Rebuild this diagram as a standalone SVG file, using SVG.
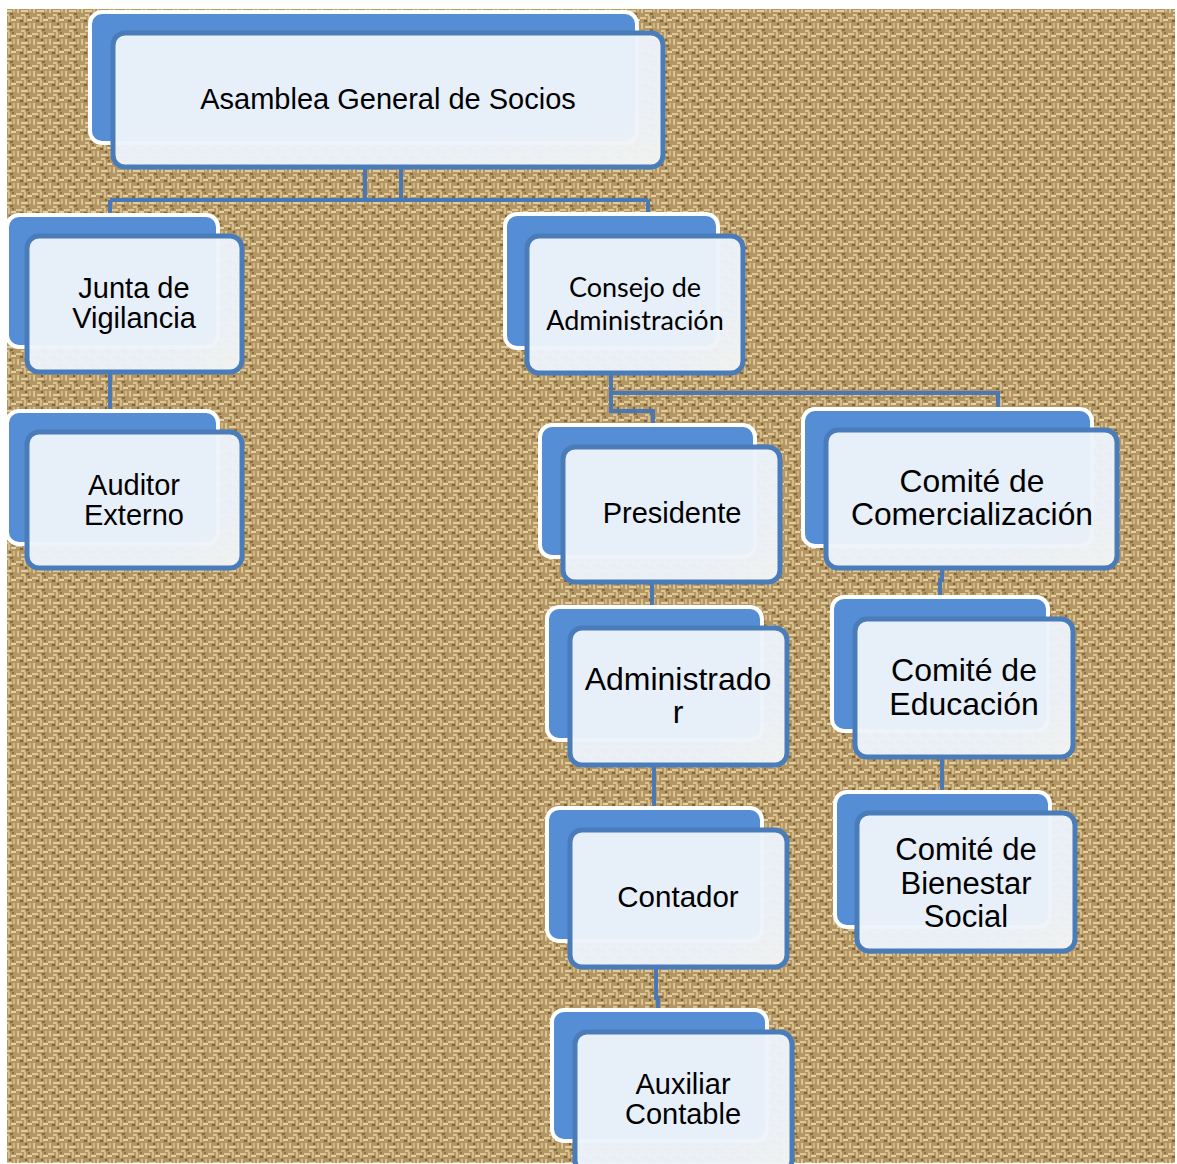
<svg xmlns="http://www.w3.org/2000/svg" width="1177" height="1164" viewBox="0 0 1177 1164">
<defs>
<pattern id="burlap" x="0" y="0" width="16" height="16" patternUnits="userSpaceOnUse">
<rect width="16" height="16" fill="#b39664"/>
<rect x="0" y="1" width="6" height="2" fill="#dcc795"/>
<rect x="8" y="0" width="2" height="6" fill="#d4bd8a"/>
<rect x="11" y="3" width="5" height="2" fill="#e3d2a6"/>
<rect x="1" y="7" width="2" height="6" fill="#d8c491"/>
<rect x="5" y="10" width="7" height="2" fill="#e0cc9c"/>
<rect x="13" y="7" width="2" height="5" fill="#cfb682"/>
<rect x="4" y="4" width="3" height="2" fill="#7f6338"/>
<rect x="10" y="13" width="3" height="2" fill="#86693c"/>
<rect x="12" y="0" width="2" height="2" fill="#8e7143"/>
<rect x="5" y="14" width="4" height="2" fill="#d9c694"/>
<rect x="9" y="7" width="2" height="2" fill="#7c6036"/>
</pattern>
<linearGradient id="frontFill" x1="0" y1="0" x2="1" y2="1">
<stop offset="0" stop-color="#edf3fb"/>
<stop offset="0.75" stop-color="#edf3fb"/>
<stop offset="1" stop-color="#f3f5f4"/>
</linearGradient>
</defs>
<style>
.back{fill:#558ed5;stroke:#ffffff;stroke-width:4}
.front{fill:url(#frontFill);fill-opacity:0.96;stroke:#4a7cba;stroke-width:5}
.conn{fill:none;stroke:#4a78b4;stroke-width:4}
.t{font-family:"Liberation Sans",Arial,sans-serif;fill:#000;text-anchor:middle}
.c{font-family:Lato,"Open Sans",sans-serif;fill:#000;text-anchor:middle}
</style>
<rect x="0" y="0" width="1177" height="1164" fill="#ffffff"/>
<rect x="7" y="9" width="1168" height="1154" fill="url(#burlap)"/>

<g id="connectors">
<path class="conn" d="M365 167 V200 M401 167 V200 M110 200 H648 M110 200 V216 M648 200 V215"/>
<path class="conn" d="M110 372 V412"/>
<path class="conn" d="M611 373 V411 H653 V426 M611 393 H998 V410"/>
<path class="conn" d="M652 582 V608"/>
<path class="conn" d="M654 765 V809"/>
<path class="conn" d="M656 967 V998 H658 V1011"/>
<path class="conn" d="M942 568 V580 H940 V598"/>
<path class="conn" d="M942 757 V793"/>
</g>

<g id="asamblea">
<rect class="back" x="90" y="12" width="547" height="131" rx="12"/>
<rect class="front" x="113" y="33" width="550" height="134" rx="12"/>
<text class="t" x="388" y="109" font-size="29">Asamblea General de Socios</text>
</g>

<g id="junta">
<rect class="back" x="7" y="215" width="211" height="132" rx="12"/>
<rect class="front" x="27" y="236" width="215" height="136" rx="12"/>
<text class="t" x="134" y="298" font-size="29">Junta de</text>
<text class="t" x="134" y="328" font-size="29">Vigilancia</text>
</g>

<g id="auditor">
<rect class="back" x="7" y="411" width="211" height="133" rx="12"/>
<rect class="front" x="27" y="432" width="215" height="136" rx="12"/>
<text class="t" x="134" y="495" font-size="29">Auditor</text>
<text class="t" x="134" y="525" font-size="29">Externo</text>
</g>

<g id="consejo">
<rect class="back" x="505" y="214" width="213" height="134" rx="12"/>
<rect class="front" x="527" y="236" width="216" height="137" rx="12"/>
<text class="c" x="635" y="297" font-size="27">Consejo de</text>
<text class="c" x="635" y="330" font-size="27">Administración</text>
</g>

<g id="presidente">
<rect class="back" x="540" y="425" width="215" height="132" rx="12"/>
<rect class="front" x="563" y="447" width="217" height="135" rx="12"/>
<text class="t" x="672" y="523" font-size="29">Presidente</text>
</g>

<g id="administrador">
<rect class="back" x="547" y="607" width="215" height="133" rx="12"/>
<rect class="front" x="570" y="628" width="217" height="137" rx="12"/>
<text class="t" x="678" y="690" font-size="32">Administrado</text>
<text class="t" x="678" y="723" font-size="32">r</text>
</g>

<g id="contador">
<rect class="back" x="547" y="808" width="215" height="133" rx="12"/>
<rect class="front" x="570" y="830" width="217" height="137" rx="12"/>
<text class="t" x="678" y="907" font-size="29.5">Contador</text>
</g>

<g id="auxiliar">
<rect class="back" x="552" y="1010" width="215" height="131" rx="12"/>
<rect class="front" x="575" y="1032" width="217" height="140" rx="12"/>
<text class="t" x="683" y="1094" font-size="29">Auxiliar</text>
<text class="t" x="683" y="1124" font-size="29">Contable</text>
</g>

<g id="comercializacion">
<rect class="back" x="803" y="409" width="289" height="137" rx="12"/>
<rect class="front" x="826" y="430" width="291" height="138" rx="12"/>
<text class="t" x="972" y="492" font-size="31.8">Comité de</text>
<text class="t" x="972" y="525" font-size="31.8">Comercialización</text>
</g>

<g id="educacion">
<rect class="back" x="832" y="597" width="216" height="134" rx="12"/>
<rect class="front" x="855" y="619" width="218" height="138" rx="12"/>
<text class="t" x="964" y="681" font-size="32">Comité de</text>
<text class="t" x="964" y="715" font-size="32">Educación</text>
</g>

<g id="bienestar">
<rect class="back" x="835" y="792" width="215" height="135" rx="12"/>
<rect class="front" x="857" y="813" width="218" height="138" rx="12"/>
<text class="t" x="966" y="860" font-size="31">Comité de</text>
<text class="t" x="966" y="893.5" font-size="31">Bienestar</text>
<text class="t" x="966" y="927" font-size="31">Social</text>
</g>
</svg>
